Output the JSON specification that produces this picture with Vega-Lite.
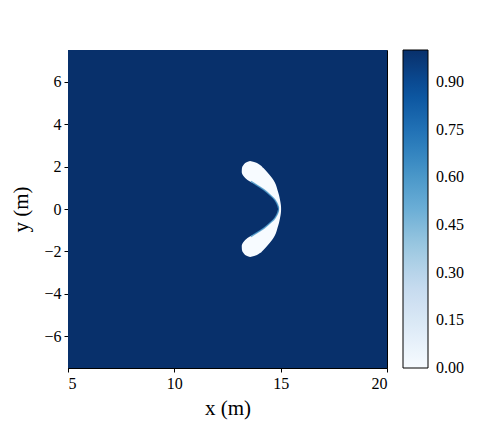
{
  "$schema": "https://vega.github.io/schema/vega-lite/v6.json",
  "width": 319,
  "height": 318,
  "autosize": {"type": "none"},
  "padding": {"left": 68, "top": 50, "right": 92, "bottom": 80},
  "background": "white",
  "config": {
    "view": {"stroke": "black", "strokeWidth": 1},
    "font": "Liberation Serif",
    "axis": {
      "labelFont": "Liberation Serif",
      "labelFontSize": 16,
      "labelColor": "black",
      "titleFont": "Liberation Serif",
      "titleFontSize": 21,
      "titleFontWeight": "normal",
      "titleColor": "black",
      "domainColor": "black",
      "tickColor": "black",
      "tickSize": 4,
      "labelPadding": 3,
      "grid": false
    },
    "legend": {
      "labelFont": "Liberation Serif",
      "labelFontSize": 16,
      "labelColor": "black"
    }
  },
  "datasets": {
    "field": [{"x": 5, "x2": 20, "y": -7.5, "y2": 7.5, "v": 1}],
    "crescent": [
      {"y": 2.264, "xl": 13.56, "xr": 13.56, "v": 0},
      {"y": 2.22, "xl": 13.42, "xr": 13.75, "v": 0},
      {"y": 2.08, "xl": 13.25, "xr": 14.03, "v": 0},
      {"y": 1.93, "xl": 13.18, "xr": 14.19, "v": 0},
      {"y": 1.75, "xl": 13.17, "xr": 14.36, "v": 0},
      {"y": 1.56, "xl": 13.25, "xr": 14.52, "v": 0},
      {"y": 1.37, "xl": 13.44, "xr": 14.66, "v": 0},
      {"y": 1.13, "xl": 13.87, "xr": 14.78, "v": 0},
      {"y": 0.9, "xl": 14.22, "xr": 14.85, "v": 0},
      {"y": 0.66, "xl": 14.5, "xr": 14.92, "v": 0},
      {"y": 0.43, "xl": 14.73, "xr": 14.97, "v": 0},
      {"y": 0.19, "xl": 14.86, "xr": 15.01, "v": 0},
      {"y": 0.0, "xl": 14.92, "xr": 15.02, "v": 0},
      {"y": -0.19, "xl": 14.86, "xr": 15.01, "v": 0},
      {"y": -0.43, "xl": 14.73, "xr": 14.97, "v": 0},
      {"y": -0.66, "xl": 14.5, "xr": 14.92, "v": 0},
      {"y": -0.9, "xl": 14.22, "xr": 14.85, "v": 0},
      {"y": -1.13, "xl": 13.87, "xr": 14.78, "v": 0},
      {"y": -1.37, "xl": 13.44, "xr": 14.66, "v": 0},
      {"y": -1.56, "xl": 13.25, "xr": 14.52, "v": 0},
      {"y": -1.75, "xl": 13.17, "xr": 14.36, "v": 0},
      {"y": -1.93, "xl": 13.18, "xr": 14.19, "v": 0},
      {"y": -2.08, "xl": 13.25, "xr": 14.03, "v": 0},
      {"y": -2.22, "xl": 13.42, "xr": 13.75, "v": 0},
      {"y": -2.264, "xl": 13.56, "xr": 13.56, "v": 0}
    ],
    "edge": [
      {"i": 1, "x": 13.6, "y": 1.3},
      {"i": 2, "x": 13.87, "y": 1.13},
      {"i": 3, "x": 14.22, "y": 0.9},
      {"i": 4, "x": 14.5, "y": 0.66},
      {"i": 5, "x": 14.73, "y": 0.43},
      {"i": 6, "x": 14.86, "y": 0.19},
      {"i": 7, "x": 14.92, "y": 0.0},
      {"i": 8, "x": 14.86, "y": -0.19},
      {"i": 9, "x": 14.73, "y": -0.43},
      {"i": 10, "x": 14.5, "y": -0.66},
      {"i": 11, "x": 14.22, "y": -0.9},
      {"i": 12, "x": 13.87, "y": -1.13},
      {"i": 13, "x": 13.6, "y": -1.3}
    ]
  },
  "layer": [
    {
      "data": {"name": "field"},
      "mark": {"type": "rect"},
      "encoding": {
        "x": {
          "field": "x", "type": "quantitative",
          "scale": {"domain": [5, 20], "nice": false, "zero": false},
          "axis": {"values": [5, 10, 15, 20], "title": "x (m)", "titlePadding": 6}
        },
        "x2": {"field": "x2"},
        "y": {
          "field": "y", "type": "quantitative",
          "scale": {"domain": [-7.5, 7.5], "nice": false, "zero": false},
          "axis": {"values": [-6, -4, -2, 0, 2, 4, 6], "title": "y (m)", "titlePadding": 12}
        },
        "y2": {"field": "y2"},
        "color": {
          "field": "v", "type": "quantitative",
          "scale": {
            "domain": [0, 0.125, 0.25, 0.375, 0.5, 0.625, 0.75, 0.875, 1],
            "range": ["#f7fbff", "#deebf7", "#c6dbef", "#9ecae1", "#6baed6", "#4292c6", "#2171b5", "#08519c", "#08306b"]
          },
          "legend": {
            "title": null,
            "type": "gradient",
            "direction": "vertical",
            "values": [0, 0.15, 0.3, 0.45, 0.6, 0.75, 0.9],
            "format": ".2f",
            "gradientLength": 318,
            "gradientThickness": 25,
            "gradientStrokeColor": "black",
            "gradientStrokeWidth": 1,
            "labelOverlap": false,
            "labelBaseline": "middle",
            "labelOffset": 8,
            "offset": 16,
            "padding": 0,
            "encode": {"labels": {"update": {"baseline": {"value": "middle"}}}}
          }
        }
      }
    },
    {
      "data": {"name": "crescent"},
      "mark": {"type": "area", "orient": "horizontal", "interpolate": "monotone"},
      "encoding": {
        "y": {"field": "y", "type": "quantitative"},
        "x": {"field": "xl", "type": "quantitative"},
        "x2": {"field": "xr"},
        "color": {"field": "v", "type": "quantitative"}
      }
    },
    {
      "data": {"name": "edge"},
      "mark": {"type": "line", "interpolate": "monotone", "strokeWidth": 1.5, "opacity": 0.8, "color": "#4a98c9"},
      "encoding": {
        "x": {"field": "x", "type": "quantitative"},
        "y": {"field": "y", "type": "quantitative"},
        "order": {"field": "i"}
      }
    }
  ]
}
